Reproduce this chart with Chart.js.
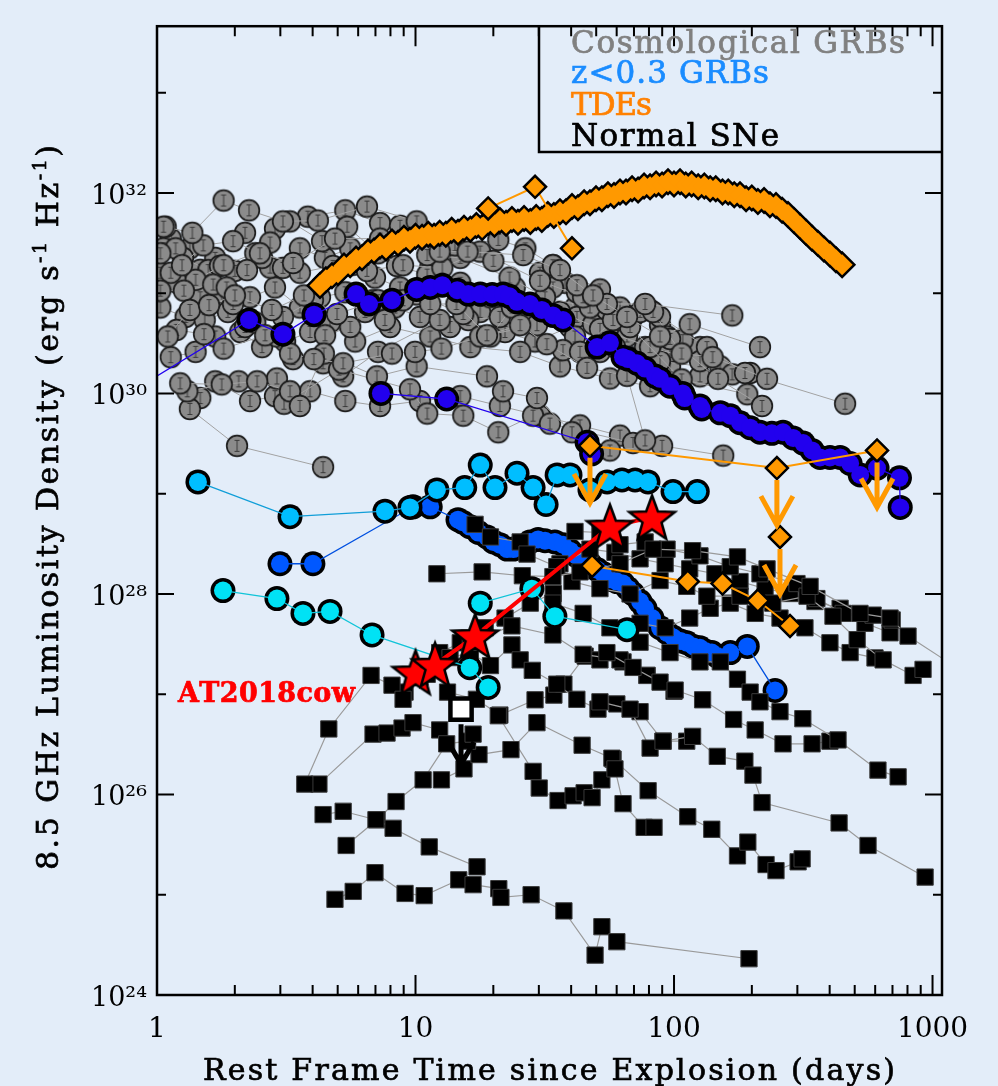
<!DOCTYPE html>
<html>
<head>
<meta charset="utf-8">
<script src="https://cdn.jsdelivr.net/npm/chart.js@4/dist/chart.umd.min.js"></script>
<style>
  html, body { margin: 0; padding: 0; background: #e3edf9; }
  canvas { display: block; }
</style>
</head>
<body>
<canvas id="lumChart" width="998" height="1086"></canvas>
<script>
// values: [rest frame days, 8.5 GHz luminosity density in erg/s/Hz]
const cosmoGRBs = [
  [[1.06,4.6e31],[1.37,4.0e31],[1.81,8.4e31],[2.27,6.7e31],[3.07,5.2e31],[4.19,5.3e31],[6.49,7.3e31],[10.1,5.2e31],[12.4,2.6e31],[15.9,2.6e31],[26.1,2.4e31],[36.2,1.7e31],[48.6,9.5e30],[65.8,5.8e30],[88.3,3.7e30],[115,4.9e30],[215,2.9e30]],
  [[1.03,2.5e31],[1.25,1.9e31],[1.51,3.0e31],[1.97,3.3e31],[2.50,2.5e31],[3.36,2.0e31],[4.88,3.5e31],[7.29,3.5e31],[8.71,4.7e31],[11.1,2.4e31],[20.0,2.1e31],[34.0,1.9e31],[42.1,1.2e31],[55.0,7.8e30],[77.3,7.8e30],[168,6.0e30]],
  [[1.10,3.7e30],[1.34,6.8e30],[1.59,7.6e30],[2.00,9.5e30],[2.78,6.8e30],[3.70,9.5e30],[4.97,6.2e30],[7.16,8.5e30],[8.95,8.5e30],[11.4,7.8e30],[14.4,7.8e30],[18.9,3.8e30],[25.4,4.8e30],[32.2,3.1e30],[46.1,1.8e30],[65.8,1.5e30],[77.3,3.4e29]],
  [[1.19,4.3e30],[1.52,3.9e30],[1.81,2.8e30],[2.62,3.8e30],[3.27,2.5e30],[4.04,2.2e30],[5.25,2.0e30],[8.11,2.5e30],[9.96,2.6e30],[12.6,2.8e30],[17.8,3.7e30],[29.5,4.8e30],[37.2,2.7e30],[43.3,2.6e30],[58.1,5.4e30],[83.0,6.5e30],[107,2.5e30],[141,2.3e30],[229,1.4e30]],
  [[1.23,1.26e30],[1.78,1.23e30],[2.44,1.32e30],[3.27,1.05e30],[3.57,7.5e29],[4.42,2.5e30],[7.09,1.48e30],[10.1,1.86e30],[18.9,1.48e30],[21.8,1.05e30],[29.5,9.0e29],[40.3,4.1e29],[56.5,2.7e29],[89.9,3.0e29],[155,2.4e29]],
  [[1.31,1.05e30],[2.07,1.32e30],[2.91,1.41e30],[3.10,7.9e29],[5.06,1.73e30],[9.52,1.1e30],[11.1,6.3e29],[15.3,6.0e29],[20.9,4.1e29],[28.5,6.0e29],[33.1,5.0e29],[69.4,3.2e29]],
  [[1.34,7.0e29],[2.04,3.0e29],[4.39,1.84e29]],
  [[1.03,1.06e31],[1.27,1.06e31],[1.65,1.22e31],[1.86,1.14e31],[2.23,1.7e31],[2.74,3.2e31],[3.27,5.2e31],[4.35,3.3e31],[5.44,4.6e31],[7.16,2.5e31],[8.95,1.9e31],[12.7,1.8e31],[17.8,2.6e31],[30.3,1.33e31],[44.5,9.1e30],[61.8,7.2e30],[88.3,5.8e30],[134,2.9e30],[188,1.6e30],[459,7.9e29]],
  [[1.08,4.6e31],[1.18,2.8e31],[1.41,1.36e31],[1.81,1.9e31],[2.40,2.5e31],[2.86,4.4e31],[3.83,5.8e31],[5.35,6.7e31],[7.29,5.0e31],[10.4,3.8e31],[14.2,3.0e31],[20.9,3.4e31],[26.6,2.8e31],[34.0,1.9e31],[51.7,1.09e31],[73.9,6.5e30],[96.5,3.5e30],[148,1.4e30],[219,7.5e29]],
  [[1.06,2.8e31],[1.26,2.25e31],[1.58,1.7e31],[1.75,1.87e31],[2.00,1.67e31],[2.55,2.25e31],[3.07,1.79e31],[3.57,1.6e31],[4.80,1.87e31],[5.74,1.92e31],[6.49,1.67e31],[8.48,1.87e31],[11.1,1.53e31],[14.9,2.25e31],[23.1,1.43e31],[31.7,9.1e30],[47.3,7.2e30],[67.6,4.6e30],[107,1.38e30],[192,9.8e29]],
  [[1.13,1.6e31],[1.47,9.1e30],[1.97,7.8e30],[2.40,5.1e30],[3.07,5.8e30],[4.01,8.5e30],[4.47,3.8e30],[5.59,4.6e30],[6.85,8.5e30],[7.61,5.4e30],[10.1,9.7e30],[15.3,6.2e30],[19.5,3.7e30],[23.6,7.2e30],[36.2,6.5e30],[51.7,4.4e30],[80.8,2.9e30],[126,2.1e30],[168,1.55e30]],
  [[1.03,7.2e30],[1.29,5.8e30],[1.53,5.4e30],[1.88,6.5e30],[2.19,4.6e30],[2.91,3.7e30],[3.36,2.2e30],[4.39,2.0e30],[5.25,1.48e30],[7.16,2.6e30],[12.4,5.4e30],[16.0,5.4e30],[21.2,5.8e30],[27.8,6.9e30],[41.4,3.7e30],[59.1,2.9e30],[88.3,2.1e30],[197,1.6e30]],
  [[34.0,1.14e31],[42.1,1.02e31],[48.6,7.8e30],[55.0,6.8e30],[61.8,5.4e30],[69.4,5.8e30],[80.8,6.8e30],[88.3,4.8e30],[94.0,3.7e30],[108,3.4e30]],
  [[30.3,1.6e31],[37.9,1.27e31],[42.1,5.8e30],[48.6,4.9e30],[56.5,4.1e30],[65.8,3.7e30],[77.3,2.9e30],[96.5,2.6e30],[126,2.9e30],[151,1.86e30]],
  [[1.13,2.3e30],[1.41,2.6e30],[1.68,3.7e30],[2.10,4.1e30],[2.55,2.9e30],[3.13,3.3e30],[3.91,4.1e30],[4.67,5.1e30],[5.84,3.3e30],[7.97,4.6e30],[11.4,3.7e30],[16.3,2.9e30],[25.4,2.6e30],[36.2,1.86e30],[56.5,1.41e30],[80.8,1.18e30]],
  [[1.13,3.5e31],[1.34,2.8e31],[1.68,2.25e31],[2.19,4.0e31],[2.74,1.8e31],[3.57,2.8e31],[4.46,2.25e31],[5.59,2.8e31],[6.97,1.43e31],[8.71,1.14e31],[11.4,1.8e31],[14.9,1.27e31],[19.5,9.1e30],[24.2,1.14e31],[31.7,7.2e30],[41.4,7.2e30],[51.7,5.8e30]],
  [[1.03,1.6e31],[1.20,1.27e31],[1.47,1.71e31],[1.78,9.1e30],[2.29,9.1e30],[2.86,1.14e31],[3.57,7.2e30],[4.27,9.1e30],[5.35,1.02e31],[6.38,6.5e30],[8.33,7.2e30],[10.4,5.8e30],[13.6,4.6e30],[17.8,6.5e30],[22.2,4.1e30],[29.0,3.3e30],[39.6,4.6e30],[51.7,2.6e30],[67.6,2.3e30],[96.5,1.86e30],[126,1.48e30]],
  [[1.47,9.0e29],[1.68,1.32e30],[2.29,8.4e29],[2.86,9.4e29],[3.91,1.05e30],[5.35,8.4e29],[7.29,7.5e29],[10.4,8.4e29],[14.9,9.4e29],[21.2,7.5e29],[30.3,6.0e29],[43.3,4.8e29],[61.8,3.8e29]]
];

const lowzDarkA = [[0.6,6.7e29],[2.27,5.4e30],[3.07,3.9e30],[4.05,6.1e30],[5.89,9.8e30],[6.61,7.8e30],[8.11,8.5e30],[10.1,1.09e31],[11.4,1.14e31],[12.7,1.2e31],[14.5,1.07e31],[16.0,9.8e30],[17.8,9.8e30],[19.8,9.7e30],[21.8,9.8e30],[23.1,9.3e30],[24.7,8.2e30],[27.7,7.8e30],[30.8,6.8e30],[34.0,6.0e30],[37.2,5.4e30],[50.4,2.9e30],[56.5,3.2e30],[63.5,2.3e30],[66.4,2.2e30],[71.9,2.0e30],[77.3,1.77e30],[84.4,1.49e30],[88.3,1.4e30],[96.5,1.18e30],[108,1.0e30],[110,9.0e29],[126,7.5e29],[128,7.0e29],[151,6.4e29],[165,6.0e29],[180,5.1e29],[197,4.55e29],[215,4.1e29],[239,4.0e29],[264,4.1e29],[289,3.6e29],[316,3.2e29],[342,2.7e29],[367,2.3e29],[401,2.3e29],[439,2.3e29],[480,2.0e29],[525,1.54e29],[610,1.8e29],[745,1.44e29],[750,7.3e28]];
const lowzDarkB = [[7.35,1.0e30],[13.2,8.8e29],[46.1,3.26e29],[48.0,2.5e29]];
const lowzMid = [[2.99,2.0e28],[4.01,2.0e28],[9.78,7.4e28],[11.4,7.4e28],[14.6,5.5e28],[15.2,5.2e28],[16.2,4.7e28],[17.5,4.1e28],[18.9,3.7e28],[20.0,3.3e28],[21.2,3.1e28],[22.6,2.8e28],[23.9,2.8e28],[25.4,2.9e28],[27.7,3.3e28],[29.8,3.5e28],[31.7,3.4e28],[34.6,3.3e28],[37.2,3.1e28],[39.6,2.7e28],[42.1,2.4e28],[45.3,2.2e28],[47.3,2.0e28],[50.4,1.75e28],[53.1,1.6e28],[56.5,1.4e28],[60.1,1.33e28],[63.5,1.27e28],[66.4,1.13e28],[69.4,1.0e28],[73.9,8.4e27],[77.2,7.2e27],[82.2,5.75e27],[88.3,4.6e27],[94.0,4.1e27],[99.2,3.7e27],[106,3.4e27],[112,3.26e27],[119,3.0e27],[126,2.9e27],[132,2.7e27],[140,2.6e27],[147,2.4e27],[165,2.6e27],[192,3.0e27],[246,1.09e27]];
const lowzLight = [[1.44,1.31e29],[3.27,5.9e28],[7.62,6.7e28],[9.52,7.3e28],[12.1,1.09e29],[15.5,1.15e29],[17.8,1.93e29],[20.3,1.15e29],[24.7,1.6e29],[28.5,1.15e29],[32.0,7.8e28],[35.3,1.54e29],[39.6,1.54e29],[47.3,1.09e29],[55.1,1.31e29],[62.9,1.37e29],[70.7,1.37e29],[79.3,1.31e29],[99.1,1.05e29],[123,1.05e29]];
const lowzCyanA = [[1.80,1.08e28],[2.91,9.0e27],[3.67,6.4e27],[4.67,6.7e27],[6.79,3.9e27],[16.2,1.84e27],[19.1,1.17e27]];
const lowzCyanB = [[17.8,8.1e27],[28.2,1.13e28],[34.6,6.0e27],[65.8,4.4e27]];

const tdeDense = [[4.27,1.19e31],[4.50,1.36e31],[4.75,1.49e31],[5.01,1.60e31],[5.29,1.87e31],[5.59,1.92e31],[5.89,2.19e31],[6.21,2.25e31],[6.55,2.57e31],[6.91,2.63e31],[7.29,2.95e31],[7.69,2.82e31],[8.11,3.23e31],[8.56,3.15e31],[9.02,3.54e31],[9.52,3.38e31],[10.0,3.70e31],[10.6,3.61e31],[11.2,3.87e31],[11.8,3.70e31],[12.4,3.96e31],[13.1,3.87e31],[13.8,4.24e31],[14.6,4.05e31],[15.4,4.44e31],[16.3,4.34e31],[17.2,4.74e31],[18.1,4.53e31],[19.1,5.09e31],[20.2,4.86e31],[21.2,5.32e31],[22.4,4.97e31],[23.6,5.44e31],[24.9,5.09e31],[26.3,5.57e31],[27.8,5.2e31],[29.3,5.7e31],[30.8,5.44e31],[32.5,6.1e31],[34.3,5.95e31],[36.2,6.5e31],[38.2,6.5e31],[40.3,7.3e31],[42.5,7.1e31],[44.9,8.0e31],[47.3,8.0e31],[49.9,8.75e31],[52.6,8.75e31],[55.5,9.6e31],[58.6,9.4e31],[61.8,1.02e32],[65.2,1.02e32],[68.8,1.10e32],[72.6,1.07e32],[76.6,1.17e32],[80.8,1.15e32],[85.2,1.23e32],[89.9,1.20e32],[94.8,1.29e32],[100,1.23e32],[105.5,1.29e32],[111,1.20e32],[117,1.23e32],[124,1.15e32],[131,1.17e32],[138,1.10e32],[145,1.10e32],[154,1.02e32],[162,1.02e32],[171,9.6e31],[180,9.6e31],[190,8.75e31],[200,8.9e31],[211,8.2e31],[223,8.4e31],[235,7.6e31],[248,7.5e31],[262,6.7e31],[276,6.1e31],[291,5.32e31],[307,4.64e31],[324,4.05e31],[342,3.54e31],[360,3.15e31],[380,2.75e31],[401,2.46e31],[423,2.15e31],[447,1.92e31]];
const tdeTrio = [[19.1,7.0e31],[29.0,1.15e32],[40.3,2.8e31]];
const tdeLimits = [[47.3,3.0e29],[250,1.8e29],[610,2.7e29]];
const tdeLimitSingle = [[257,3.7e28]];
const tdeLate = [[48.2,1.9e28],[113,1.33e28],[154,1.27e28],[211,8.6e27],[281,4.8e27]];

const normalSNe = [
  [[4.88,9.0e24],[5.74,1.08e25],[6.97,1.66e25],[9.11,1.03e25],[10.8,9.8e24],[14.7,1.41e25],[16.7,1.26e25],[21.0,1.15e25],[21.4,9.4e24],[28.0,1.0e25],[37.5,6.9e24],[49.5,2.5e24],[52.6,4.8e24],[60.1,3.4e24],[195,2.3e24]],
  [[4.39,6.3e25],[5.25,6.8e25],[7.03,5.6e25],[8.19,4.6e25],[11.3,3.0e25],[17.3,1.9e25]],
  [[5.39,3.1e25],[7.1,5.6e25],[8.41,8.5e25],[10.7,1.4e26],[13.2,3.2e26],[15.9,3.4e26],[16.7,4.0e26]],
  [[12.6,1.4e26],[15.4,1.8e26],[17.6,2.5e26],[23.4,2.8e26],[29.5,5.2e26],[44.1,3.1e26],[57.5,2.3e26],[59.1,1.8e26],[63.5,8.1e25],[76.6,4.7e25],[83.7,4.7e25]],
  [[3.73,1.27e26],[4.62,4.5e26],[6.73,1.54e27],[8.11,1.23e27],[8.95,8.9e26]],
  [[4.23,1.27e26],[6.85,4.0e26],[7.76,4.1e26],[8.87,4.6e26],[9.78,5.2e26],[12.4,4.4e26]],
  [[20.9,6.1e26],[28.5,1.7e26],[30.1,1.16e26],[35.6,8.7e25],[40.7,9.7e25],[44.9,1.04e26],[48.2,9.3e25],[52.6,1.4e26]],
  [[58.1,2.25e26],[79.4,1.09e26],[113,6.0e25],[140,4.5e25],[176,2.44e25],[193,3.35e25],[227,2.0e25],[248,1.74e25],[302,2.13e25],[313,2.28e25]],
  [[12.1,1.59e28],[18.1,1.66e28],[25.9,1.52e28],[34.0,1.49e28],[43.3,1.66e28],[61.8,2.0e28],[83.0,2.8e28],[118,2.7e28],[176,2.34e28],[229,1.78e28],[336,1.19e28],[524,6.4e27],[685,5.75e27],[804,3.8e27],[1300,1.7e27]],
  [[17.0,4.95e28],[19.5,3.7e28],[25.4,3.3e28],[27.0,2.5e28],[35.2,1.87e28],[40.3,1.33e28],[51.7,1.13e28],[67.6,1.0e28],[88.3,1.36e28],[112,1.19e28],[134,9.5e27],[180,9.5e27],[241,8.1e27],[327,9.5e27],[412,6.0e27],[511,3.5e27],[644,2.2e27],[841,1.54e27],[919,1.77e27]],
  [[41.4,4.2e28],[51.7,4.1e28],[61.8,3.1e28],[77.3,3.3e28],[94.0,2.8e28],[126,2.4e28],[165,1.87e28],[215,1.59e28],[299,1.27e28],[357,9.0e27],[451,6.4e27],[589,6.15e27],[698,5.5e27]],
  [[34.0,8.1e27],[44.5,6.4e27],[56.5,4.6e27],[73.9,3.3e27],[96.5,2.6e27],[126,2.1e27],[151,2.1e27],[176,1.41e27],[197,1.05e27],[215,8.4e26],[257,6.7e26],[315,5.7e26],[431,3.5e26],[615,1.75e26],[736,1.5e26]],
  [[55.0,2.6e27],[69.4,1.85e27],[88.3,1.32e27],[101,1.1e27],[129,8.8e26],[170,5.6e26],[206,4.4e26],[264,3.2e26],[342,3.2e26],[401,3.4e26]],
  [[51.7,8.4e26],[67.6,7.1e26],[80.8,2.9e26],[90.7,3.4e26],[118,3.8e26],[147,2.4e26],[188,2.15e26],[202,1.56e26],[219,8.3e25],[435,5.2e25],[563,3.1e25],[936,1.5e25]],
  [[16.3,3.3e27],[23.6,4.8e27],[34.0,3.9e27],[44.5,2.5e27],[61.8,2.2e27],[78.6,1.54e27],[100,1.07e27]],
  [[25.4,2.2e27],[28.3,1.73e27],[35.2,1.26e27],[42.1,8.9e26],[50.8,7.1e26],[60.1,8.0e26],[73.9,6.7e26],[90.7,3.4e26],[112,3.4e26]],
  [[13.3,1.05e27],[17.2,8.9e26],[21.2,6.2e26],[29.0,8.8e26],[34.3,9.8e26],[37.5,1.26e27],[45.3,2.4e27],[51.7,2.2e27],[63.5,2.1e27],[78.6,1.54e27]],
  [[11.1,1.58e27],[13.6,2.32e27],[16.3,2.6e27],[19.5,1.93e27],[23.6,3.1e27]],
  [[36.2,2.0e28],[47.3,2.8e28],[59.1,2.6e28],[73.9,2.24e28],[92.4,2.0e28],[115,1.78e28],[144,1.59e28],[180,1.33e28],[225,1.13e28],[281,1.01e28],[351,8.4e27],[439,7.2e27],[548,5.1e27],[685,4.1e27]],
  [[73.9,5.1e27],[92.4,4.6e27],[115,5.75e27],[138,7.2e27],[165,8.1e27],[206,6.4e27],[257,5.75e27],[321,4.6e27],[401,3.26e27],[480,2.6e27],[599,2.3e27]],
  [[9.11,1.05e27],[10.4,1.47e27],[12.4,2.6e27],[14.9,3.26e27],[18.6,4.6e27],[22.2,5.75e27],[27.8,8.1e27],[34.1,1.01e28]]
];
const snLimit = [[15.0,7.1e26]];
const at2018cow = [[10.0,1.65e27],[11.9,1.97e27],[17.0,3.8e27],[56.5,4.7e28],[82.2,5.8e28]];

const xTickValues = [1, 10, 100, 1000];
const yTickValues = [1e24, 1e26, 1e28, 1e30, 1e32];

const FONT = "'DejaVu Serif', serif";
const SUP = { '0': '⁰', '1': '¹', '2': '²', '3': '³', '4': '⁴', '5': '⁵', '6': '⁶', '7': '⁷', '8': '⁸', '9': '⁹' };

function pts(arr) {
  return arr.map(([t, L]) => ({ x: t, y: L }));
}

// gray afterglow marker with a small error bar
function grbMarker() {
  const c = document.createElement('canvas');
  c.width = 26; c.height = 26;
  const g = c.getContext('2d');
  g.beginPath();
  g.arc(13, 13, 10.3, 0, 2 * Math.PI);
  g.fillStyle = '#8b8b8b';
  g.fill();
  g.lineWidth = 1.7;
  g.strokeStyle = '#1c1c1c';
  g.stroke();
  g.strokeStyle = '#3a3a3a';
  g.lineWidth = 1;
  g.beginPath();
  g.moveTo(13, 7); g.lineTo(13, 19);
  g.moveTo(10.5, 7.5); g.lineTo(15.5, 7.5);
  g.moveTo(10.5, 18.5); g.lineTo(15.5, 18.5);
  g.stroke();
  return c;
}

function starMarker() {
  const c = document.createElement('canvas');
  c.width = 56; c.height = 56;
  const g = c.getContext('2d');
  g.beginPath();
  for (let i = 0; i < 10; i++) {
    const r = i % 2 ? 10 : 24;
    const a = -Math.PI / 2 + i * Math.PI / 5;
    g.lineTo(28 + r * Math.cos(a), 30 + r * Math.sin(a));
  }
  g.closePath();
  g.fillStyle = '#ff0000';
  g.fill();
  g.lineWidth = 2.5;
  g.strokeStyle = '#000';
  g.stroke();
  return c;
}

const grbImg = grbMarker();
const starImg = starMarker();

const datasets = [];

cosmoGRBs.forEach(curve => datasets.push({
  data: pts(curve), showLine: true, borderColor: '#a2a2a2', borderWidth: 1,
  pointStyle: grbImg, pointRadius: 11, order: 10, clip: 0
}));

// black underlay + coloured overlay, so overlapping markers merge into one outlined band
function outlined(arr, color, lineColor, order, style, rOut, rIn, lineWidth) {
  datasets.push({
    data: pts(arr), showLine: false, pointStyle: style, pointRadius: rOut,
    pointBackgroundColor: '#000', pointBorderWidth: 0, order: order + 0.05, clip: 0
  });
  datasets.push({
    data: pts(arr), showLine: true, borderColor: lineColor, borderWidth: lineWidth,
    pointStyle: style, pointRadius: rIn, pointBackgroundColor: color,
    pointBorderWidth: 0, order: order, clip: 0
  });
}
outlined(lowzDarkA, '#2200ee', '#2200ee', 9, 'circle', 12.5, 9, 1.3);
outlined(lowzDarkB, '#2200ee', '#2200ee', 9, 'circle', 12.5, 9, 1.3);
outlined(lowzMid, '#0058ff', '#0050e0', 8.5, 'circle', 12.5, 9, 1.3);

normalSNe.forEach(curve => datasets.push({
  data: pts(curve), showLine: true, borderColor: '#9a9a9a', borderWidth: 1.2,
  pointStyle: 'rect', pointRadius: 11.5, pointBackgroundColor: '#000',
  pointBorderColor: '#3a3a3a', pointBorderWidth: 1, order: 7, clip: 0
}));

outlined(lowzLight, '#00beff', '#109ed8', 6, 'circle', 12.5, 9, 1.3);
outlined(lowzCyanA, '#00e2f5', '#10c4d8', 5, 'circle', 12.5, 9, 1.3);
outlined(lowzCyanB, '#00e2f5', '#10c4d8', 5, 'circle', 12.5, 9, 1.3);

outlined(tdeDense, '#ff9900', '#ff9900', 4.2, 'rectRot', 14, 10.5, 2);

function tde(arr, extra) {
  return Object.assign({
    data: pts(arr), showLine: true, borderColor: '#ff9900', borderWidth: 2,
    pointStyle: 'rectRot', pointRadius: 11, pointBackgroundColor: '#ff9900',
    pointBorderColor: '#000', pointBorderWidth: 2.5, order: 4, clip: 0
  }, extra || {});
}
datasets.push(tde(tdeTrio));
datasets.push(tde(tdeLimits, { upperLimit: '#ff9900' }));
datasets.push(tde(tdeLimitSingle, { upperLimit: '#ff9900' }));
datasets.push(tde(tdeLate));

datasets.push({
  data: pts(snLimit), showLine: false, pointStyle: 'rect', pointRadius: 15,
  pointBackgroundColor: '#fff', pointBorderColor: '#000', pointBorderWidth: 4.5,
  order: 3, clip: 0, upperLimit: '#000'
});

datasets.push({
  data: pts(at2018cow), showLine: true, borderColor: '#ff0000', borderWidth: 4,
  pointStyle: starImg, pointRadius: 22, order: 2, clip: 0
});

function drawArrow(ctx, x, y, color, dark) {
  const len = dark ? 40 : 45, head = dark ? 13 : 16, hh = dark ? 22 : 29;
  ctx.save();
  ctx.strokeStyle = color;
  ctx.lineWidth = 5;
  ctx.lineJoin = 'miter';
  ctx.beginPath();
  ctx.moveTo(x, y);
  ctx.lineTo(x, y + len);
  ctx.moveTo(x - head, y + len - hh);
  ctx.lineTo(x, y + len);
  ctx.lineTo(x + head, y + len - hh);
  ctx.stroke();
  ctx.restore();
}

// text with even spacing between glyphs so it spans a given width
function spacedText(ctx, runs, x, y, width) {
  let natural = 0, count = 0;
  runs.forEach(r => {
    ctx.font = r.font;
    for (const ch of r.text) { natural += ctx.measureText(ch).width; count++; }
  });
  const gap = count > 1 ? (width - natural) / (count - 1) : 0;
  let cx = x;
  ctx.lineWidth = 0.7;
  ctx.strokeStyle = ctx.fillStyle;
  runs.forEach(r => {
    ctx.font = r.font;
    for (const ch of r.text) {
      ctx.fillText(ch, cx, y + (r.dy || 0));
      ctx.strokeText(ch, cx, y + (r.dy || 0));
      cx += ctx.measureText(ch).width + gap;
    }
  });
}

const decorations = {
  id: 'decorations',
  afterDatasetsDraw(chart) {
    const ctx = chart.ctx;
    chart.data.datasets.forEach((ds, i) => {
      if (!ds.upperLimit) return;
      chart.getDatasetMeta(i).data.forEach(p => {
        const dark = ds.upperLimit === '#000';
        drawArrow(ctx, p.x, p.y + (dark ? 15 : 12), ds.upperLimit, dark);
      });
    });
  },
  afterDraw(chart) {
    const ctx = chart.ctx;
    const a = chart.chartArea;
    const xs = chart.scales.x, ys = chart.scales.y;
    ctx.save();
    ctx.strokeStyle = '#000';
    ctx.lineWidth = 2.5;
    ctx.strokeRect(a.left, a.top, a.right - a.left, a.bottom - a.top);

    // inward ticks on all four sides
    ctx.lineWidth = 2;
    ctx.beginPath();
    for (let d = 1; d <= 1000; d *= 10) {
      for (let m = 1; m <= 9; m++) {
        const v = m * d;
        if (v > xs.max) break;
        const px = xs.getPixelForValue(v);
        const len = m === 1 ? 20 : 10;
        ctx.moveTo(px, a.bottom); ctx.lineTo(px, a.bottom - len);
        ctx.moveTo(px, a.top); ctx.lineTo(px, a.top + len);
      }
    }
    for (let e = 24; e <= 33; e++) {
      const py = ys.getPixelForValue(Math.pow(10, e));
      const len = e % 2 === 0 ? 17 : 9;
      ctx.moveTo(a.left, py); ctx.lineTo(a.left + len, py);
      ctx.moveTo(a.right, py); ctx.lineTo(a.right - len, py);
    }
    ctx.stroke();

    // legend box
    ctx.lineWidth = 2.5;
    ctx.beginPath();
    ctx.moveTo(539, a.top);
    ctx.lineTo(539, 152);
    ctx.lineTo(a.right, 152);
    ctx.stroke();

    ctx.textAlign = 'left';
    ctx.textBaseline = 'alphabetic';
    const lf = '31px ' + FONT;
    ctx.fillStyle = '#808080';
    spacedText(ctx, [{ text: 'Cosmological GRBs', font: lf }], 571, 53, 334);
    ctx.fillStyle = '#1a8cff';
    spacedText(ctx, [{ text: 'z<0.3 GRBs', font: lf }], 571, 83, 198);
    ctx.fillStyle = '#ff8000';
    spacedText(ctx, [{ text: 'TDEs', font: lf }], 571, 115, 81);
    ctx.fillStyle = '#000000';
    spacedText(ctx, [{ text: 'Normal SNe', font: lf }], 571, 146, 208);

    ctx.fillStyle = '#ff0000';
    spacedText(ctx, [{ text: 'AT2018cow', font: 'bold 27px ' + FONT }], 178, 702, 177);

    // axis titles
    ctx.fillStyle = '#000000';
    const tf = '30px ' + FONT;
    spacedText(ctx, [{ text: 'Rest Frame Time since Explosion (days)', font: tf }], 203, 1080, 692);

    ctx.translate(58, 870);
    ctx.rotate(-Math.PI / 2);
    const sf = '19px ' + FONT;
    spacedText(ctx, [
      { text: '8.5 GHz Luminosity Density (erg s', font: tf },
      { text: '-1', font: sf, dy: -12 },
      { text: ' Hz', font: tf },
      { text: '-1', font: sf, dy: -12 },
      { text: ')', font: tf }
    ], 0, 0, 725);
    ctx.restore();
  }
};

new Chart(document.getElementById('lumChart').getContext('2d'), {
  type: 'scatter',
  data: { datasets: datasets },
  options: {
    responsive: false,
    animation: false,
    devicePixelRatio: 1,
    events: [],
    layout: { padding: { top: 13, right: 56, left: 0, bottom: 0 } },
    plugins: { legend: { display: false }, tooltip: { enabled: false } },
    scales: {
      x: {
        type: 'logarithmic',
        min: 1,
        max: 1088,
        grid: { display: false, drawTicks: false },
        border: { display: false },
        afterBuildTicks: s => { s.ticks = xTickValues.map(v => ({ value: v })); },
        afterFit: s => { s.height = 91; },
        ticks: {
          callback: v => String(v),
          font: { family: FONT, size: 28 },
          color: '#000',
          padding: 18,
          maxRotation: 0,
          autoSkip: false
        }
      },
      y: {
        type: 'logarithmic',
        min: 1e24,
        max: 4.6e33,
        grid: { display: false, drawTicks: false },
        border: { display: false },
        afterBuildTicks: s => { s.ticks = yTickValues.map(v => ({ value: v })); },
        afterFit: s => { s.width = 157; },
        ticks: {
          callback: v => '10' + String(Math.round(Math.log10(v))).split('').map(c => SUP[c]).join(''),
          font: { family: FONT, size: 27 },
          color: '#000',
          padding: 10,
          labelOffset: 4,
          autoSkip: false
        }
      }
    }
  },
  plugins: [decorations]
});
</script>
</body>
</html>
